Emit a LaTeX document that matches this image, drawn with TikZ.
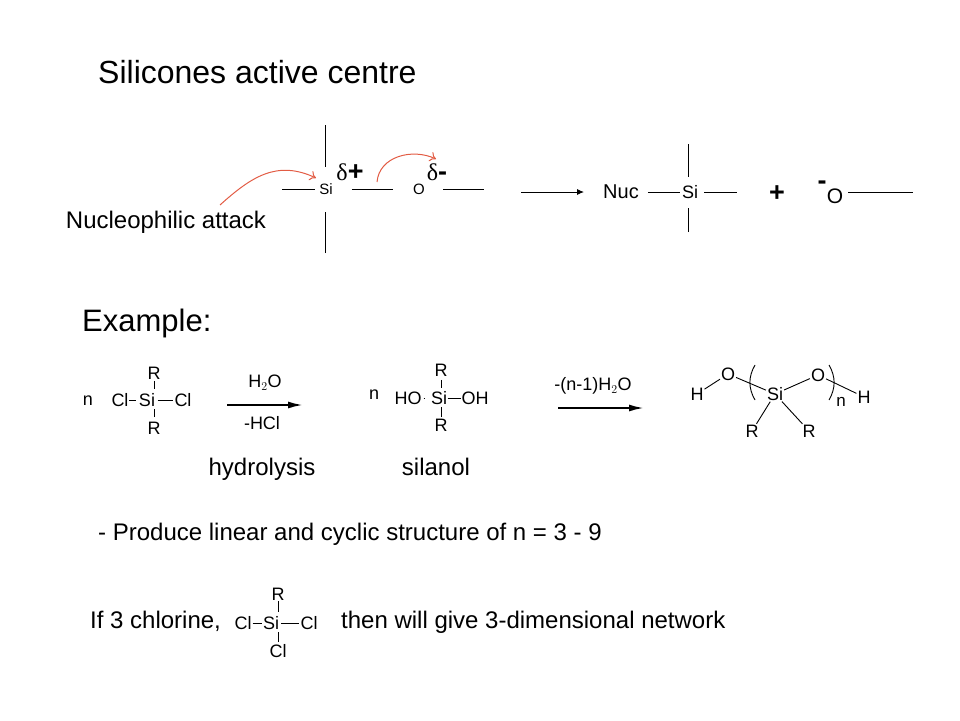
\documentclass[tikz,border=0pt]{standalone}
\usepackage{fontspec}
\setmainfont{Liberation Sans}
\newfontfamily\deltafont{Liberation Serif}
\usepackage{tikz}
\usetikzlibrary{arrows.meta}
\definecolor{attackred}{RGB}{226,92,68}
\newcommand{\deltasign}{{\deltafont\mdseries\fontsize{24}{26}\selectfont δ}}
\tikzset{
  heading/.style={inner sep=0pt, anchor=base west, font=\fontsize{32}{36}\selectfont},
  textlabel/.style={inner sep=0pt, anchor=base, font=\fontsize{24}{28}\selectfont},
  atom/.style={inner sep=0pt, font=\fontsize{18}{22}\selectfont},
  smallatom/.style={inner sep=0pt, font=\fontsize{15}{18}\selectfont},
  charge/.style={inner sep=0pt, font=\bfseries\fontsize{27}{30}\selectfont},
  bond/.style={line width=0.9pt},
  rxnarrow/.style={line width=2pt, -{Latex[length=15pt,width=7pt]}},
  thinarrow/.style={line width=0.9pt, -{Latex[length=7pt,width=6pt]}},
  attackarrow/.style={color=attackred, line width=1pt, -{To[length=6pt,width=10pt]}}
}
\begin{document}
\begin{tikzpicture}[x=1pt,y=-1pt]
  \useasboundingbox (0,0) rectangle (960,720);

  % headings and plain text
  \node [heading] (title) at (98,83) {Silicones active centre};
  \node [heading, font=\fontsize{31}{36}\selectfont] (example) at (82,331) {Example:};
  \node [textlabel] (attack) at (166,228) {Nucleophilic attack};
  \node [textlabel] (hydrolysis) at (262,475) {hydrolysis};
  \node [textlabel] (silanol) at (436,475) {silanol};
  \node [textlabel, anchor=base west] (produce) at (98,540) {- Produce linear and cyclic structure of n = 3 - 9};
  \node [textlabel, anchor=base west] (chlorine) at (90,628) {If 3 chlorine,};
  \node [textlabel, anchor=base west] (network) at (341,628) {then will give 3-dimensional network};

  % attack on silicon
  \node [smallatom] (si1) at (326,189) {Si};
  \node [smallatom] (o1) at (419,189) {O};
  \node [charge] (dplus) at (350,172) {\deltasign+};
  \node [charge] (dminus) at (437,172) {\deltasign-};
  \coordinate (si1c) at (325,189);
  \coordinate (si1n) at (325,125);
  \coordinate (si1s) at (325,253);
  \coordinate (si1w) at (282,189);
  \coordinate (o1e) at (484,189);
  \coordinate (attackfrom) at (220,205);
  \coordinate (attackto) at (316,178);
  \coordinate (shiftfrom) at (377,182);
  \coordinate (shiftto) at (436,159);
  \path [bond]
  (si1n) edge [shorten >=22pt] (si1c)
  (si1s) edge [shorten >=23pt] (si1c)
  (si1w) edge [shorten >=4pt] (si1)
  (si1) edge [shorten <=19pt, shorten >=20pt] (o1)
  (o1) edge [shorten <=18pt] (o1e)
  ;
  \path [attackarrow]
  (attackfrom) edge [out=42, in=155, looseness=1.1] (attackto)
  (shiftfrom) edge [out=85, in=155, looseness=1.05] (shiftto)
  ;

  % product
  \coordinate (nucstart) at (521,192);
  \coordinate (nucarrow) at (584,192);
  \node [atom, font=\fontsize{20}{22}\selectfont] (nuc) at (621,192) {Nuc};
  \node [atom] (si2) at (690,192) {Si};
  \node [charge] (plus) at (777,194) {+};
  \node [charge] (minus) at (822,185) {-};
  \node [atom, font=\fontsize{21}{24}\selectfont] (o2) at (835,196) {O};
  \coordinate (si2c) at (688,192);
  \coordinate (si2n) at (688,144);
  \coordinate (si2s) at (688,232);
  \coordinate (si2e) at (737,192);
  \coordinate (o2e) at (913,192);
  \path [bond]
  (nuc) edge [shorten <=9pt, shorten >=2pt] (si2)
  (si2) edge [shorten <=6pt] (si2e)
  (si2n) edge [shorten >=15pt] (si2c)
  (si2s) edge [shorten >=16pt] (si2c)
  (o2.east |- o2e) edge [shorten <=5pt] (o2e)
  ;
  \path [thinarrow] (nucstart) edge (nucarrow);

  % example, dichlorosilane
  \node [atom] (n1) at (88,401) {n};
  \node [atom] (cl1) at (120,400) {Cl};
  \node [atom] (si3) at (147,400) {Si};
  \node [atom] (cl2) at (183,400) {Cl};
  \node [atom] (r1) at (154,373) {R};
  \node [atom] (r2) at (154,428) {R};
  \coordinate (si3c) at (154,400);
  \path [bond]
  (cl1) edge [shorten <=0.5pt, shorten >=2.5pt] (si3)
  (si3) edge [shorten <=2.5pt, shorten >=1.5pt] (cl2)
  (r1) edge [shorten <=1.5pt, shorten >=11pt] (si3c)
  (r2) edge [shorten <=4.5pt, shorten >=9pt] (si3c)
  ;
  \node [atom] (water) at (265,383) {H$_2$O};
  \node [atom] (hcl) at (262,423) {-HCl};
  \coordinate (arrow1a) at (227,405);
  \coordinate (arrow1b) at (303,405);
  \path [rxnarrow] (arrow1a) edge (arrow1b);

  % example, silanol
  \node [atom] (n2) at (374,395) {n};
  \node [atom] (ho) at (408,398) {HO};
  \node [atom] (si4) at (439,398) {Si};
  \node [atom] (oh) at (475,398) {OH};
  \node [atom] (r3) at (441,370) {R};
  \node [atom] (r4) at (441,425) {R};
  \coordinate (si4c) at (441,398);
  \path [bond]
  (ho) edge [shorten <=2pt, shorten >=6.5pt] (si4)
  (si4) edge [shorten <=0.5pt, shorten >=0.5pt] (oh)
  (r3) edge [shorten <=3.5pt, shorten >=10pt] (si4c)
  (r4) edge [shorten <=1.5pt, shorten >=9pt] (si4c)
  ;
  \node [atom] (loss) at (593,386) {-(n-1)H$_2$O};
  \coordinate (arrow2a) at (558,408);
  \coordinate (arrow2b) at (644,408);
  \path [rxnarrow] (arrow2a) edge (arrow2b);

  % example, siloxane chain
  \node [atom] (h1) at (697,394) {H};
  \node [atom] (o3) at (728,374) {O};
  \node [atom] (si5) at (775,394) {Si};
  \node [atom] (o4) at (818,375) {O};
  \node [atom] (h2) at (864,397) {H};
  \node [atom, font=\fontsize{17}{20}\selectfont] (n3) at (841,402) {n};
  \node [atom] (r5) at (752,431) {R};
  \node [atom] (r6) at (809,431) {R};
  \path [bond]
  (h1) edge [shorten <=1pt, shorten >=1pt] (o3)
  (o3) edge [shorten <=1pt, shorten >=1pt] (si5)
  (si5) edge [shorten <=1pt, shorten >=1pt] (o4)
  (o4) edge [shorten <=1pt, shorten >=1pt] (h2)
  (si5) edge [shorten <=1pt, shorten >=1pt] (r5)
  (si5) edge [shorten <=1pt, shorten >=1pt] (r6)
  ;
  \coordinate (pl1) at (755,365);
  \coordinate (pl2) at (755,400);
  \coordinate (pr1) at (829,365);
  \coordinate (pr2) at (829,400);
  \path [bond]
  (pl1) edge [out=240, in=120] (pl2)
  (pr1) edge [out=-60, in=60] (pr2)
  ;

  % trichlorosilane
  \node [atom] (r7) at (278,594) {R};
  \node [atom] (cl3) at (243,623) {Cl};
  \node [atom] (si6) at (271,623) {Si};
  \node [atom] (cl4) at (309,623) {Cl};
  \node [atom] (cl5) at (278,651) {Cl};
  \coordinate (si6c) at (278,623);
  \path [bond]
  (cl3) edge [shorten <=1pt, shorten >=1pt] (si6)
  (si6) edge [shorten <=2pt, shorten >=1pt] (cl4)
  (r7) edge [shorten <=1pt, shorten >=11pt] (si6c)
  (cl5) edge [shorten <=2pt, shorten >=9pt] (si6c)
  ;
\end{tikzpicture}
\end{document}
